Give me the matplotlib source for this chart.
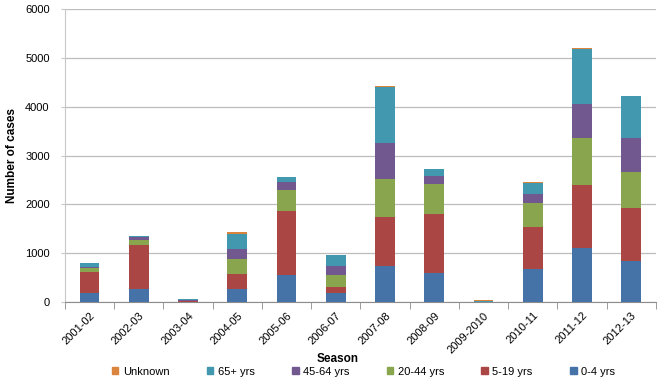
import matplotlib
matplotlib.use("Agg")
import matplotlib.pyplot as plt
import numpy as np
from matplotlib.patches import Patch

seasons = ["2001-02", "2002-03", "2003-04", "2004-05", "2005-06", "2006-07",
           "2007-08", "2008-09", "2009-2010", "2010-11", "2011-12", "2012-13"]

age_0_4 = [184, 266, 5, 266, 553, 184, 744, 601, 5, 669, 1113, 840]
age_5_19 = [430, 901, 20, 307, 1311, 123, 1003, 1208, 0, 867, 1283, 1085]
age_20_44 = [89, 103, 5, 315, 430, 246, 772, 614, 0, 491, 970, 737]
age_45_64 = [20, 54, 5, 190, 163, 184, 737, 164, 0, 185, 702, 697]
age_65_plus = [76, 27, 20, 321, 103, 226, 1147, 130, 12, 225, 1113, 860]
unknown = [0, 0, 0, 34, 0, 0, 25, 13, 28, 20, 21, 10]

series = [
    ("0-4 yrs", age_0_4, "#4572A7"),
    ("5-19 yrs", age_5_19, "#AA4643"),
    ("20-44 yrs", age_20_44, "#89A54E"),
    ("45-64 yrs", age_45_64, "#71588F"),
    ("65+ yrs", age_65_plus, "#4198AF"),
    ("Unknown", unknown, "#DB843D"),
]

plt.rcParams["font.family"] = ["Liberation Sans", "DejaVu Sans"]

fig = plt.figure(figsize=(6.63, 3.83), dpi=100)
ax = fig.add_axes([0.098, 0.2115, 0.8914, 0.7642])

x = np.arange(len(seasons))
bottom = np.zeros(len(seasons))
for label, values, color in series:
    vals = np.array(values, dtype=float)
    ax.bar(x, vals, width=0.4, bottom=bottom, color=color, label=label, zorder=3)
    bottom += vals

ax.set_xlim(-0.5, len(seasons) - 0.5)
ax.set_ylim(0, 6000)
ax.set_yticks(range(0, 6001, 1000))
ax.yaxis.grid(True, color="#bdbdbd", linewidth=0.9, zorder=0)

for side in ["top", "right"]:
    ax.spines[side].set_visible(False)
ax.spines["left"].set_color("#c8c8c8")
ax.spines["bottom"].set_color("#8c8c8c")

ax.set_xticks(x)
ax.set_xticklabels(seasons, rotation=45, ha="right", rotation_mode="anchor", fontsize=8)
ax.set_xticks(np.arange(-0.5, len(seasons)), minor=True)
ax.tick_params(axis="x", which="major", length=0, pad=6)
ax.tick_params(axis="x", which="minor", length=5, color="#8c8c8c")
ax.tick_params(axis="y", length=3, color="#c8c8c8", labelsize=8, pad=8)

ax.set_ylabel("Number of cases", fontsize=8.5, fontweight="bold")
ax.yaxis.set_label_coords(-0.08, 0.5)
ax.set_xlabel("Season", fontsize=8.5, fontweight="bold", labelpad=0)
ax.xaxis.set_label_coords(0.462, -0.175)

handles = [Patch(color=c, label=l) for l, _, c in reversed(series)]
fig.legend(handles=handles, loc="lower center", ncol=6, frameon=False, fontsize=8,
           bbox_to_anchor=(0.548, -0.01), handlelength=0.6, handleheight=0.6,
           handletextpad=0.4, columnspacing=3.35)

fig.savefig("out.png", dpi=100)
